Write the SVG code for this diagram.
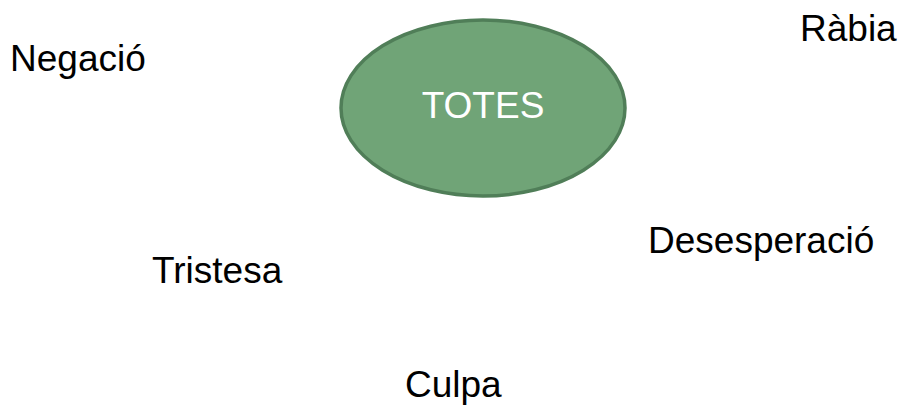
<svg xmlns="http://www.w3.org/2000/svg" width="902" height="411" viewBox="0 0 902 411">
<style>
.lbl{font-family:"Liberation Sans",Arial,sans-serif;font-size:37px;fill:#000}
.in{font-family:"Liberation Sans",Arial,sans-serif;font-size:37px;fill:#fff;text-anchor:middle}
.ell{fill:#70A477;stroke:#507E58;stroke-width:3.5}
</style>
<rect width="902" height="411" fill="#fff"/>
<g id="connectors"></g>
<g id="totes"><ellipse class="ell" cx="483" cy="108" rx="142" ry="88"/><text class="in" x="483" y="118">TOTES</text></g>
<g id="negacio"><text class="lbl" x="10" y="71">Negació</text></g>
<g id="rabia"><text class="lbl" x="800" y="41">Ràbia</text></g>
<g id="desesperacio"><text class="lbl" x="648" y="253">Desesperació</text></g>
<g id="tristesa"><text class="lbl" x="152" y="283">Tristesa</text></g>
<g id="culpa"><text class="lbl" x="405" y="397">Culpa</text></g>
</svg>
